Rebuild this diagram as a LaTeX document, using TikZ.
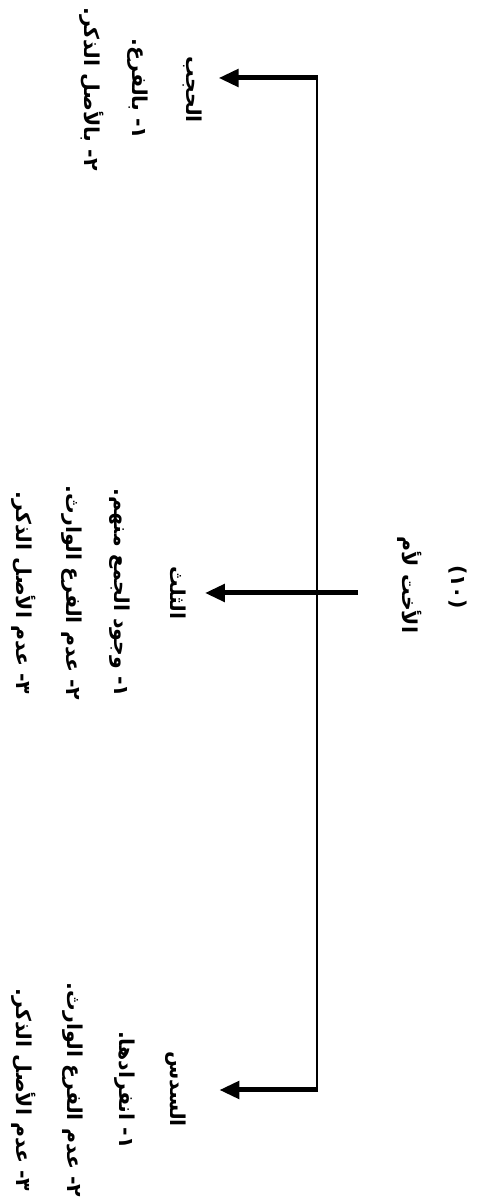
\documentclass[tikz,border=0pt]{standalone}
\usepackage{fontspec}
\usetikzlibrary{arrows.meta}
\TeXXeTstate=1
\newfontfamily\arabicfont[Script=Arabic]{DejaVu Sans}
\begin{document}
\begin{tikzpicture}[x=1pt,y=1pt,
  txt/.style={font=\arabicfont\bfseries\fontsize{20.5}{24}\selectfont, rotate=-90, inner sep=0pt},
  ttl/.style={txt, outer ysep=16pt},
  thinline/.style={line width=2.4pt},
  arr/.style={line width=5pt, -{Triangle[length=20pt,width=17pt]}}]
\useasboundingbox (0,0) rectangle (479,1202);
% root
\node[txt] (num) at (458,615) {(١٠)};
\node[txt] (root) at (410,617) {\beginR الأخت لأم\endR};
% left group (top in picture)
\node[ttl] (hajb) at (193,1112) {\beginR الحجب\endR};
\node[txt] (hajb1) at (138,1113) {\beginR ١- بالفرع.\endR};
\node[txt] (hajb2) at (92,1113) {\beginR ٢- بالأصل الذكر.\endR};
% middle group
\node[ttl] (thuluth) at (178,609) {\beginR الثلث\endR};
\node[txt] (thuluth1) at (120,609) {\beginR ١- وجود الجمع منهم.\endR};
\node[txt] (thuluth2) at (72,609) {\beginR ٢- عدم الفرع الوارث.\endR};
\node[txt] (thuluth3) at (24,609) {\beginR ٣- عدم الأصل الذكر.\endR};
% bottom group
\node[ttl] (sudus) at (176,113) {\beginR السدس\endR};
\node[txt] (sudus1) at (125,112) {\beginR ١- انفرادها.\endR};
\node[txt] (sudus2) at (73,112) {\beginR ٢- عدم الفرع الوارث.\endR};
\node[txt] (sudus3) at (24,112) {\beginR ٣- عدم الأصل الذكر.\endR};
% connectors
\coordinate (top) at (317,1124);
\coordinate (bot) at (317,112);
\coordinate (rootin) at (358,609);
\draw[thinline] (top) -- (bot);
\draw[arr] ([xshift=1.2pt]top) -- (hajb.north |- top);
\draw[arr, shorten >=17pt] ([xshift=1.2pt]bot) -- (sudus.north |- bot);
\draw[arr, shorten >=3pt] (rootin) -- (thuluth.north);
\end{tikzpicture}
\end{document}
